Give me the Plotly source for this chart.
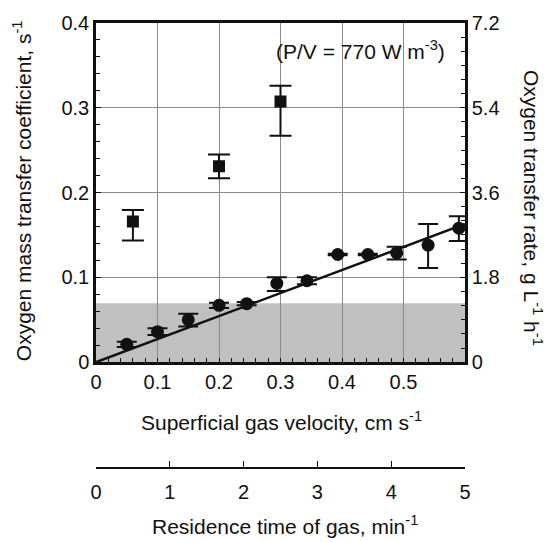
import plotly.graph_objects as go

# Superficial gas velocity (cm/s) and kLa (1/s) for the two data sets
circ_x = [0.05, 0.10, 0.15, 0.20, 0.245, 0.294, 0.343, 0.393, 0.442, 0.489, 0.540, 0.590]
circ_y = [0.021, 0.036, 0.050, 0.067, 0.069, 0.093, 0.096, 0.127, 0.127, 0.129, 0.138, 0.158]
circ_err_plus = [0.003, 0.004, 0.007, 0.003, 0.002, 0.007, 0.004, 0.001, 0.001, 0.007, 0.025, 0.014]
circ_err_minus = [0.003, 0.004, 0.008, 0.003, 0.002, 0.009, 0.004, 0.001, 0.001, 0.008, 0.027, 0.015]

sq_x = [0.06, 0.20, 0.30]
sq_y = [0.166, 0.231, 0.3075]
sq_err_plus = [0.0135, 0.014, 0.0185]
sq_err_minus = [0.0225, 0.014, 0.0405]

# Linear fit through the circle data
fit_x = [0.0, 0.6]
fit_y = [0.0, 0.163]

# Oxygen demand level (g L-1 h-1) shown as the shaded band
demand_rate = 1.25

# Axis ticks
x_ticks = [0, 0.1, 0.2, 0.3, 0.4, 0.5]
y_ticks = [0, 0.1, 0.2, 0.3, 0.4]
y_tick_text = ["0", "0.1", "0.2", "0.3", "0.4"]
rate_ticks = [0, 1.8, 3.6, 5.4, 7.2]
rate_tick_text = ["0", "1.8", "3.6", "5.4", "7.2"]
res_ticks = [0, 1, 2, 3, 4, 5]

FONT = "Liberation Sans, Arial, sans-serif"
INK = "#111111"

fig = go.Figure()

fig.add_trace(go.Scatter(
    x=fit_x, y=fit_y, mode="lines",
    line=dict(color=INK, width=2.5), hoverinfo="skip", showlegend=False))

fig.add_trace(go.Scatter(
    x=circ_x, y=circ_y, mode="markers",
    marker=dict(symbol="circle", size=13, color=INK),
    error_y=dict(type="data", symmetric=False, array=circ_err_plus,
                 arrayminus=circ_err_minus, color=INK, thickness=2, width=10),
    showlegend=False))

fig.add_trace(go.Scatter(
    x=sq_x, y=sq_y, mode="markers",
    marker=dict(symbol="square", size=12, color=INK),
    error_y=dict(type="data", symmetric=False, array=sq_err_plus,
                 arrayminus=sq_err_minus, color=INK, thickness=2, width=11),
    showlegend=False))

# anchors for the secondary axes
fig.add_trace(go.Scatter(x=[0], y=[0], xaxis="x", yaxis="y2", mode="markers",
                         marker=dict(opacity=0), hoverinfo="skip", showlegend=False))
fig.add_trace(go.Scatter(x=[0], y=[0], xaxis="x2", yaxis="y", mode="markers",
                         marker=dict(opacity=0), hoverinfo="skip", showlegend=False))

fig.add_shape(type="rect", xref="x", yref="y2", x0=0, x1=0.6, y0=0, y1=demand_rate,
              fillcolor="#c0c0c0", line=dict(width=0), layer="below")

tickfont = dict(family=FONT, size=20, color=INK)

fig.update_layout(
    width=548, height=542,
    margin=dict(l=96, r=83, t=16, b=20),
    paper_bgcolor="white", plot_bgcolor="white",
    font=dict(family=FONT, color=INK),
    xaxis=dict(
        range=[0, 0.6], tickvals=x_ticks, ticktext=["0", "0.1", "0.2", "0.3", "0.4", "0.5"],
        ticks="inside", ticklen=0, tickfont=tickfont,
        minor=dict(dtick=0.02, ticks="inside", ticklen=4, tickcolor=INK, showgrid=False),
        showgrid=True, gridcolor="#8a8a8a", gridwidth=1,
        showline=True, linecolor=INK, linewidth=2.5, mirror=True, zeroline=False,
        anchor="y"),
    yaxis=dict(
        domain=[0.3162, 1], range=[0, 0.4], tickvals=y_ticks, ticktext=y_tick_text,
        ticks="inside", ticklen=5, tickcolor=INK, tickfont=tickfont,
        minor=dict(dtick=0.02, ticks="inside", ticklen=4, tickcolor=INK, showgrid=False),
        showgrid=True, gridcolor="#8a8a8a", gridwidth=1,
        showline=True, linecolor=INK, linewidth=2.5, mirror=True, zeroline=False),
    yaxis2=dict(
        overlaying="y", side="right", range=[0, 7.2], tickvals=rate_ticks,
        ticktext=rate_tick_text, ticks="inside", ticklen=5, tickcolor=INK, tickfont=tickfont,
        minor=dict(dtick=0.3, ticks="inside", ticklen=4, tickcolor=INK, showgrid=False),
        showgrid=False, showline=True, linecolor=INK, linewidth=2.5, zeroline=False),
    xaxis2=dict(
        overlaying="x", anchor="free", position=0.1038, side="bottom",
        range=[0, 5], tickvals=res_ticks, ticks="inside", ticklen=6, tickcolor=INK,
        tickfont=tickfont, ticklabelstandoff=6, showgrid=False, showline=True,
        linecolor=INK, linewidth=2, zeroline=False),
)

titlefont = dict(family=FONT, size=21, color=INK)
fig.add_annotation(text="Oxygen mass transfer coefficient, s<sup>-1</sup>",
                   xref="paper", yref="paper", x=-0.2005, y=0.661, textangle=-90,
                   showarrow=False, xanchor="center", yanchor="middle", font=titlefont)
fig.add_annotation(text="Oxygen transfer rate, g L<sup>-1</sup> h<sup>-1</sup>",
                   xref="paper", yref="paper", x=1.186, y=0.628, textangle=90,
                   showarrow=False, xanchor="center", yanchor="middle", font=titlefont)
fig.add_annotation(text="Superficial gas velocity, cm s<sup>-1</sup>",
                   xref="paper", yref="paper", x=0.504, y=0.198,
                   showarrow=False, xanchor="center", yanchor="middle", font=titlefont)
fig.add_annotation(text="Residence time of gas, min<sup>-1</sup>",
                   xref="paper", yref="paper", x=0.512, y=-0.012,
                   showarrow=False, xanchor="center", yanchor="middle", font=titlefont)
fig.add_annotation(text="(P/V = 770 W m<sup>-3</sup>)",
                   xref="paper", yref="paper", x=0.717, y=0.9447,
                   showarrow=False, xanchor="center", yanchor="middle", font=titlefont)

fig.write_html("out.html")
